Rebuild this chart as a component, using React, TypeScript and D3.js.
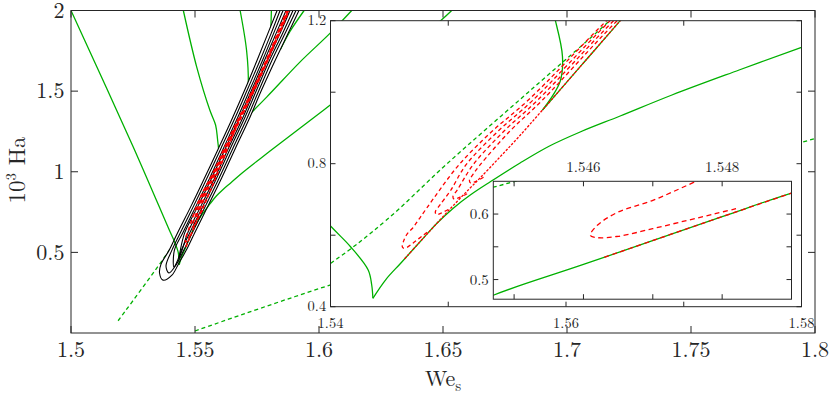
import React from 'react';
import * as d3 from 'd3';

type Pt = [number, number];

// ---- axis domains and ticks ----
const mainXDomain = [1.5, 1.8];
const mainYDomain = [0, 2];
const mainXTicks = [1.5, 1.55, 1.6, 1.65, 1.7, 1.75, 1.8];
const mainXLabels = ['1.5', '1.55', '1.6', '1.65', '1.7', '1.75', '1.8'];
const mainYTicks = [0.5, 1, 1.5, 2];
const mainYLabels = ['0.5', '1', '1.5', '2'];

const in1XDomain = [1.54, 1.58];
const in1YDomain = [0.4, 1.2];
const in1XTicks = [1.54, 1.55, 1.56, 1.57, 1.58];
const in1XLabels = ['1.54', '', '1.56', '', '1.58'];
const in1YTicks = [0.4, 0.6, 0.8, 1.0, 1.2];
const in1YLabels = ['0.4', '', '0.8', '', '1.2'];

const in2XDomain = [1.5447, 1.549];
const in2YDomain = [0.47, 0.65];
const in2XTicks = [1.545, 1.546, 1.547, 1.548];
const in2XLabels = ['', '1.546', '', '1.548'];
const in2YTicks = [0.5, 0.55, 0.6];
const in2YLabels = ['0.5', '', '0.6'];

// ---- green solid branches (We_s, 10^3 Ha) ----
const branchA: Pt[] = [[1.5, 2.0], [1.5251, 1.154], [1.54, 0.6257], [1.5417, 0.5678], [1.5432, 0.5027], [1.5435, 0.4607], [1.5436, 0.4235]];
const branchB: Pt[] = [[1.5436, 0.4235], [1.5447, 0.476], [1.546, 0.523], [1.548, 0.596], [1.549, 0.632], [1.5504, 0.675], [1.5519, 0.713], [1.5536, 0.75], [1.5561, 0.802], [1.5586, 0.8495], [1.5612, 0.8887], [1.5646, 0.9334], [1.569, 0.9922], [1.5747, 1.0621], [1.58, 1.1256], [1.6044, 1.412], [1.6488, 1.934], [1.6535, 2.0]];
const branchC: Pt[] = [[1.5645, 1.24], [1.5789, 1.463], [1.5923, 1.68], [1.6044, 1.858], [1.6132, 2.0]];
const branchE: Pt[] = [[1.5453, 2.0], [1.5507, 1.649], [1.556, 1.381], [1.5583, 1.29], [1.5591, 1.2], [1.5597, 1.1], [1.5595, 1.03], [1.558, 0.95]];
const branchF: Pt[] = [[1.5682, 2.0], [1.5708, 1.752], [1.5715, 1.546], [1.571, 1.46]];
const branchG: Pt[] = [[1.5808, 2.0], [1.5802, 1.8], [1.579, 1.69], [1.5778, 1.55]];
const branchH: Pt[] = [[1.594, 2.0], [1.5883, 1.87], [1.5845, 1.76]];
const branchK: Pt[] = [[1.558, 0.95], [1.5613, 1.075], [1.5646, 1.2], [1.5662, 1.265]];

// ---- green dashed branches ----
const dashedD1: Pt[] = [[1.519, 0.076], [1.54, 0.521], [1.5447, 0.641], [1.5499, 0.8], [1.5568, 1.0], [1.5637, 1.2], [1.5662, 1.28]];
const dashedD2: Pt[] = [[1.55, 0.0124], [1.6044, 0.297], [1.7952, 1.1845], [1.8, 1.2056]];

// ---- red dashed branches ----
const redR0: Pt[] = [[1.5463, 0.534], [1.548, 0.596], [1.549, 0.632], [1.5504, 0.682], [1.5518, 0.73], [1.5527, 0.76], [1.5542, 0.812], [1.5559, 0.872], [1.558, 0.95], [1.5613, 1.075], [1.5646, 1.2], [1.5662, 1.26], [1.5735, 1.505], [1.579, 1.69], [1.5837, 1.858], [1.5876, 2.0], [1.5903, 2.12]];
const redL1: Pt[] = [[1.5482, 0.6082], [1.5479, 0.6006], [1.5475, 0.5904], [1.547, 0.5777], [1.5465, 0.566], [1.5462, 0.564], [1.5461, 0.5675], [1.5462, 0.5828], [1.5465, 0.603], [1.547, 0.6209], [1.5476, 0.6488], [1.5488, 0.705], [1.5509, 0.7965], [1.5537, 0.89], [1.5568, 0.978], [1.5635, 1.202], [1.5731, 1.505], [1.5787, 1.69], [1.587, 2.0], [1.59, 2.12]];
const redL2: Pt[] = [[1.55, 0.672], [1.5494, 0.662], [1.549, 0.658], [1.5489, 0.665], [1.5493, 0.685], [1.5502, 0.725], [1.5515, 0.7965], [1.5542, 0.89], [1.5572, 0.978], [1.5638, 1.202], [1.5733, 1.505], [1.5789, 1.69], [1.5873, 2.0], [1.5902, 2.12]];
const redL3: Pt[] = [[1.5516, 0.716], [1.5509, 0.705], [1.5505, 0.701], [1.5504, 0.708], [1.5508, 0.728], [1.5521, 0.7965], [1.5547, 0.89], [1.5576, 0.978], [1.5641, 1.202], [1.5736, 1.505], [1.5791, 1.69], [1.5876, 2.0], [1.5904, 2.12]];
const redL4: Pt[] = [[1.553, 0.762], [1.5523, 0.75], [1.5519, 0.746], [1.5518, 0.753], [1.5521, 0.77], [1.5527, 0.7965], [1.5552, 0.89], [1.558, 0.978], [1.5644, 1.202], [1.5739, 1.505], [1.5793, 1.69], [1.5879, 2.0], [1.5906, 2.12]];

// ---- black closed contours (main panel) ----
const contour1: Pt[] = [[1.5371, 0.328], [1.5357, 0.372], [1.5363, 0.427], [1.5396, 0.514], [1.5429, 0.619], [1.5486, 0.793], [1.5538, 0.96], [1.5595, 1.146], [1.5647, 1.319], [1.57, 1.505], [1.575, 1.69], [1.5794, 1.858], [1.5831, 2.0], [1.5863, 2.124], [1.5952, 2.124], [1.5919, 2.0], [1.5875, 1.858], [1.5823, 1.69], [1.5768, 1.505], [1.5716, 1.319], [1.5663, 1.146], [1.5607, 0.96], [1.5554, 0.793], [1.5498, 0.619], [1.5465, 0.514], [1.5435, 0.433], [1.5407, 0.359]];
const contour2: Pt[] = [[1.5395, 0.372], [1.5383, 0.415], [1.5407, 0.514], [1.544, 0.619], [1.5496, 0.793], [1.5548, 0.96], [1.5605, 1.146], [1.5657, 1.319], [1.571, 1.505], [1.5762, 1.69], [1.5807, 1.858], [1.5843, 2.0], [1.5875, 2.124], [1.594, 2.124], [1.5907, 2.0], [1.5863, 1.858], [1.581, 1.69], [1.5758, 1.505], [1.5706, 1.319], [1.5653, 1.146], [1.5597, 0.96], [1.5544, 0.793], [1.5488, 0.619], [1.5455, 0.514], [1.5423, 0.421]];
const contour3: Pt[] = [[1.5415, 0.409], [1.5417, 0.514], [1.545, 0.619], [1.5506, 0.793], [1.5559, 0.96], [1.5615, 1.146], [1.5667, 1.319], [1.572, 1.505], [1.5772, 1.69], [1.5817, 1.858], [1.5855, 2.0], [1.5887, 2.124], [1.5927, 2.124], [1.5895, 2.0], [1.5853, 1.858], [1.58, 1.69], [1.5748, 1.505], [1.5696, 1.319], [1.5643, 1.146], [1.5587, 0.96], [1.5534, 0.793], [1.5478, 0.619], [1.5445, 0.514], [1.5427, 0.44]];
const contour4: Pt[] = [[1.5436, 0.464], [1.5458, 0.619], [1.5514, 0.793], [1.5567, 0.96], [1.5623, 1.146], [1.5675, 1.319], [1.5728, 1.505], [1.578, 1.69], [1.5827, 1.858], [1.5867, 2.0], [1.5899, 2.124], [1.5915, 2.124], [1.5883, 2.0], [1.5843, 1.858], [1.5792, 1.69], [1.574, 1.505], [1.5688, 1.319], [1.5635, 1.146], [1.5579, 0.96], [1.5526, 0.793], [1.547, 0.619], [1.5448, 0.514]];

const GREEN = '#00b000';
const RED = '#ff0000';
const AXIS = '#262626';
const FONT = "'Latin Modern Roman', 'CMU Serif', 'Liberation Serif', 'DejaVu Serif', serif";

type Layer = { data: Pt[]; stroke: string; dash?: string; width?: number; closed?: boolean; fill?: string };

const greenSolid = (data: Pt[]): Layer => ({ data, stroke: GREEN, width: 1.3 });
const greenDash = (data: Pt[]): Layer => ({ data, stroke: GREEN, width: 1.3, dash: '4,3' });
const redDash = (data: Pt[], dash = '4,3', width = 1.3): Layer => ({ data, stroke: RED, width, dash });
const blackLoop = (data: Pt[]): Layer => ({ data, stroke: '#000', width: 1.1, closed: true });
const whiteLoop = (data: Pt[]): Layer => ({ data, stroke: 'none', fill: '#fff', closed: true });

const mainLayers: Layer[] = [
  greenDash(dashedD1), greenDash(dashedD2),
  greenSolid(branchE), greenSolid(branchF), greenSolid(branchG), greenSolid(branchH),
  greenSolid(branchC), greenSolid(branchK),
  whiteLoop(contour1),
  greenSolid(branchA), greenSolid(branchB),
  blackLoop(contour1), blackLoop(contour2), blackLoop(contour3), blackLoop(contour4),
  redDash(redL1, '4,3', 1.6), redDash(redL2, '4,3', 1.6), redDash(redL3, '4,3', 1.6),
  redDash(redL4, '4,3', 1.6), redDash(redR0, '4,2', 1.6),
];

const in1Layers: Layer[] = [
  greenDash(dashedD1),
  greenSolid(branchA), greenSolid(branchB), greenSolid(branchE), greenSolid(branchK),
  redDash(redL1), redDash(redL2), redDash(redL3), redDash(redL4), redDash(redR0, '2.5,1.5'),
];

const in2Layers: Layer[] = [
  greenDash(dashedD1), greenSolid(branchB),
  redDash(redL1, '5,3.5'), redDash(redR0, '5,3.5'),
];

type Box = { left: number; right: number; top: number; bottom: number };

function Panel(props: {
  id: string; box: Box; xDomain: number[]; yDomain: number[]; layers: Layer[];
  xTicks: number[]; yTicks: number[]; tickLen: number;
  xLabels: string[]; yLabels: string[]; fontSize: number; xLabelGap: number; xLabelsTop?: boolean;
}) {
  const { id, box, layers, tickLen, fontSize } = props;
  const x = d3.scaleLinear().domain(props.xDomain).range([box.left, box.right]);
  const y = d3.scaleLinear().domain(props.yDomain).range([box.bottom, box.top]);
  const open = d3.line<Pt>().x(d => x(d[0])).y(d => y(d[1])).curve(d3.curveCatmullRom.alpha(0.5));
  const closed = d3.line<Pt>().x(d => x(d[0])).y(d => y(d[1])).curve(d3.curveCatmullRomClosed.alpha(0.5));
  const w = box.right - box.left;
  const h = box.bottom - box.top;
  return (
    <g>
      <defs>
        <clipPath id={id}>
          <rect x={box.left} y={box.top} width={w} height={h} />
        </clipPath>
      </defs>
      <rect x={box.left} y={box.top} width={w} height={h} fill="#fff" />
      <g clipPath={`url(#${id})`}>
        {layers.map((l, i) => (
          <path key={i} d={(l.closed ? closed : open)(l.data) || ''}
            fill={l.fill || 'none'} stroke={l.stroke} strokeWidth={l.width || 1}
            strokeDasharray={l.dash} strokeLinejoin="round" />
        ))}
      </g>
      <rect x={box.left} y={box.top} width={w} height={h} fill="none" stroke={AXIS} strokeWidth={1} />
      {props.xTicks.map((t, i) => (
        <g key={'xt' + i}>
          <line x1={x(t)} x2={x(t)} y1={box.bottom} y2={box.bottom - tickLen} stroke={AXIS} />
          <line x1={x(t)} x2={x(t)} y1={box.top} y2={box.top + tickLen} stroke={AXIS} />
          {props.xLabels[i] && (
            <text x={x(t)} y={props.xLabelsTop ? box.top - props.xLabelGap : box.bottom + props.xLabelGap}
              textAnchor="middle" fontSize={fontSize} fontFamily={FONT} fill={AXIS}>
              {props.xLabels[i]}
            </text>
          )}
        </g>
      ))}
      {props.yTicks.map((t, i) => (
        <g key={'yt' + i}>
          <line x1={box.left} x2={box.left + tickLen} y1={y(t)} y2={y(t)} stroke={AXIS} />
          <line x1={box.right} x2={box.right - tickLen} y1={y(t)} y2={y(t)} stroke={AXIS} />
          {props.yLabels[i] && (
            <text x={box.left - fontSize * 0.3} y={y(t)} dy="0.33em" textAnchor="end"
              fontSize={fontSize} fontFamily={FONT} fill={AXIS}>
              {props.yLabels[i]}
            </text>
          )}
        </g>
      ))}
    </g>
  );
}

export default function App() {
  const mainBox = { left: 71, right: 815, top: 10.5, bottom: 333 };
  const in1Box = { left: 330.5, right: 801.5, top: 20.7, bottom: 306.7 };
  const in2Box = { left: 493.3, right: 791.5, top: 181.3, bottom: 299.2 };
  return (
    <div style={{ position: 'absolute', left: 0, top: 0 }}>
      <svg width={830} height={395} style={{ display: 'block', background: '#fff' }}>
        <Panel id="clipMain" box={mainBox} xDomain={mainXDomain} yDomain={mainYDomain}
          layers={mainLayers} xTicks={mainXTicks} yTicks={mainYTicks} tickLen={7}
          xLabels={mainXLabels} yLabels={mainYLabels} fontSize={22} xLabelGap={24} />
        <Panel id="clipIn1" box={in1Box} xDomain={in1XDomain} yDomain={in1YDomain}
          layers={in1Layers} xTicks={in1XTicks} yTicks={in1YTicks} tickLen={5}
          xLabels={in1XLabels} yLabels={in1YLabels} fontSize={14.5} xLabelGap={21} />
        <Panel id="clipIn2" box={in2Box} xDomain={in2XDomain} yDomain={in2YDomain}
          layers={in2Layers} xTicks={in2XTicks} yTicks={in2YTicks} tickLen={5}
          xLabels={in2XLabels} yLabels={in2YLabels} fontSize={15} xLabelGap={9} xLabelsTop={true} />
        <text transform="translate(25,170) rotate(-90)" textAnchor="middle" fontSize={23}
          fontFamily={FONT} fill={AXIS}>
          10<tspan dy={-9} fontSize={15}>3</tspan><tspan dy={9}> Ha</tspan>
        </text>
        <text x={443} y={386} textAnchor="middle" fontSize={22} fontFamily={FONT} fill={AXIS}>
          We<tspan dy={5} fontSize={15}>s</tspan>
        </text>
      </svg>
    </div>
  );
}
